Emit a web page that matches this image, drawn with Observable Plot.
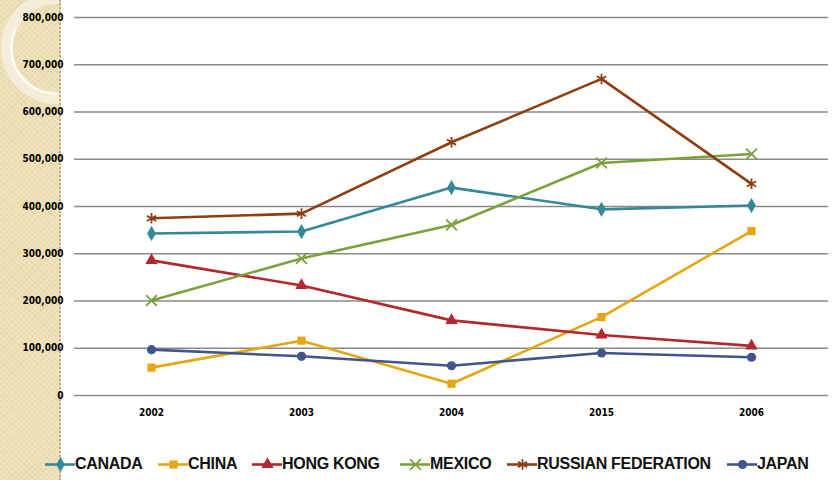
<!DOCTYPE html>
<html>
<head>
<meta charset="utf-8">
<script src="https://cdn.jsdelivr.net/npm/d3@7"></script>
<script src="https://cdn.jsdelivr.net/npm/@observablehq/plot@0.6"></script>
<style>
  html, body { margin: 0; padding: 0; background: #fff; }
  #wrap { position: relative; width: 836px; height: 480px; overflow: hidden; background: #fff; }
  #strip {
    position: absolute; left: 0; top: 0; width: 59px; height: 480px;
    background-color: #F0E2BA;
    background-image:
      repeating-linear-gradient(45deg, rgba(214,196,150,0.25) 0 1px, transparent 1px 4px),
      repeating-linear-gradient(-45deg, rgba(214,196,150,0.25) 0 1px, transparent 1px 4px);
    border-right: 2px dotted #B9AC8E;
    overflow: hidden;
  }
  #ring {
    position: absolute; left: 1px; top: -8px; width: 112px; height: 112px;
    border-radius: 50%; border: 12px solid rgba(244,238,222,0.9);
    box-sizing: border-box;
  }
  #ring2 {
    position: absolute; left: 10px; top: 1px; width: 94px; height: 94px;
    border-radius: 50%; border: 2px solid transparent;
    border-left-color: rgba(255,255,255,0.95); border-bottom-color: rgba(255,255,255,0.6);
    transform: rotate(-20deg);
    box-sizing: border-box;
  }
  #chart { position: absolute; left: 0; top: 0; }
  #legend { position: absolute; left: 0; top: 452px; width: 836px; height: 24px; }
  .item { position: absolute; top: 0; display: flex; align-items: center; height: 24px; }
  .item span {
    font-family: "Liberation Sans", Arial, sans-serif; font-weight: bold;
    font-size: 16px; color: #111; letter-spacing: -0.3px; margin-left: 0px;
  }
</style>
</head>
<body>
<div id="wrap">
  <div id="strip"><div id="ring"></div><div id="ring2"></div></div>
  <div id="chart"></div>
  <div id="legend"></div>
</div>
<script>
// Category axis labels and series
const years = ["2002", "2003", "2004", "2015", "2006"];
const countries = ["CANADA", "CHINA", "HONG KONG", "MEXICO", "RUSSIAN FEDERATION", "JAPAN"];
const canada = [343000, 347000, 440000, 394000, 402000];
const china = [59000, 116000, 25000, 166000, 348000];
const hongKong = [286000, 233000, 159000, 128000, 105000];
const mexico = [201000, 290000, 361000, 492000, 511000];
const russia = [375000, 385000, 536000, 670000, 448000];
const japan = [97000, 83000, 63000, 90000, 81000];
const yTicks = [0, 100000, 200000, 300000, 400000, 500000, 600000, 700000, 800000];

const colors = ["#35879C", "#E5A611", "#B2282F", "#7AA23A", "#8E3F12", "#40558C"];
const symbols = ["diamond", "square", "triangle", "times", "asterisk", "circle"];
const filled = [true, true, true, false, false, true];

const seriesValues = [canada, china, hongKong, mexico, russia, japan];
const rows = countries.flatMap((c, i) =>
  years.map((y, j) => ({country: c, year: y, value: seriesValues[i][j]})));

const fmt = d => d === 0 ? "0" : d3.format(",")(d);
const axisFont = "'DejaVu Sans Condensed', 'Liberation Sans Narrow', sans-serif";

const marks = [
  Plot.ruleY(yTicks, {stroke: "#8A8A8A", strokeWidth: 1.6}),
  Plot.axisY({ticks: yTicks, tickSize: 0, tickPadding: 11, tickFormat: fmt,
    fontWeight: "bold", fontSize: 10, fill: "#000", label: null}),
  Plot.axisX({tickSize: 0, tickPadding: 13, fontWeight: "bold", fontSize: 10,
    fill: "#000", label: null}),
  Plot.line(rows, {x: "year", y: "value", z: "country", stroke: "country", strokeWidth: 2.6})
];
countries.forEach((c, i) => {
  const data = rows.filter(r => r.country === c);
  marks.push(Plot.dot(data, filled[i]
    ? {x: "year", y: "value", symbol: () => symbols[i], fill: colors[i], r: 4.6, stroke: "none"}
    : {x: "year", y: "value", symbol: () => symbols[i], stroke: colors[i], r: 5, strokeWidth: 1.8}));
});

const chart = Plot.plot({
  width: 836, height: 440,
  marginLeft: 74, marginRight: 8, marginTop: 17, marginBottom: 45,
  style: {background: "transparent", fontFamily: axisFont},
  x: {type: "point", domain: years, padding: 0.5, axis: null},
  y: {domain: [0, 800000], axis: null},
  color: {domain: countries, range: colors},
  symbol: {domain: symbols, range: symbols},
  marks
});
document.getElementById("chart").appendChild(chart);

// Legend: line swatch with the series marker, followed by the name
const legendX = [45, 158, 252, 400, 507, 727];
const legend = document.getElementById("legend");
countries.forEach((c, i) => {
  const item = document.createElement("div");
  item.className = "item";
  item.style.left = legendX[i] + "px";
  const sw = Plot.plot({
    width: 30, height: 24, margin: 0,
    style: {background: "transparent"},
    x: {domain: [0, 1], axis: null}, y: {domain: [0, 1], axis: null},
    marks: [
      Plot.ruleY([0.5], {x1: 0, x2: 1, stroke: colors[i], strokeWidth: 2.6}),
      Plot.dot([[0.5, 0.5]], filled[i]
        ? {symbol: symbols[i], fill: colors[i], r: 4.6}
        : {symbol: symbols[i], stroke: colors[i], r: 5, strokeWidth: 1.8})
    ]
  });
  item.appendChild(sw);
  const label = document.createElement("span");
  label.textContent = c;
  item.appendChild(label);
  legend.appendChild(item);
});
</script>
</body>
</html>
